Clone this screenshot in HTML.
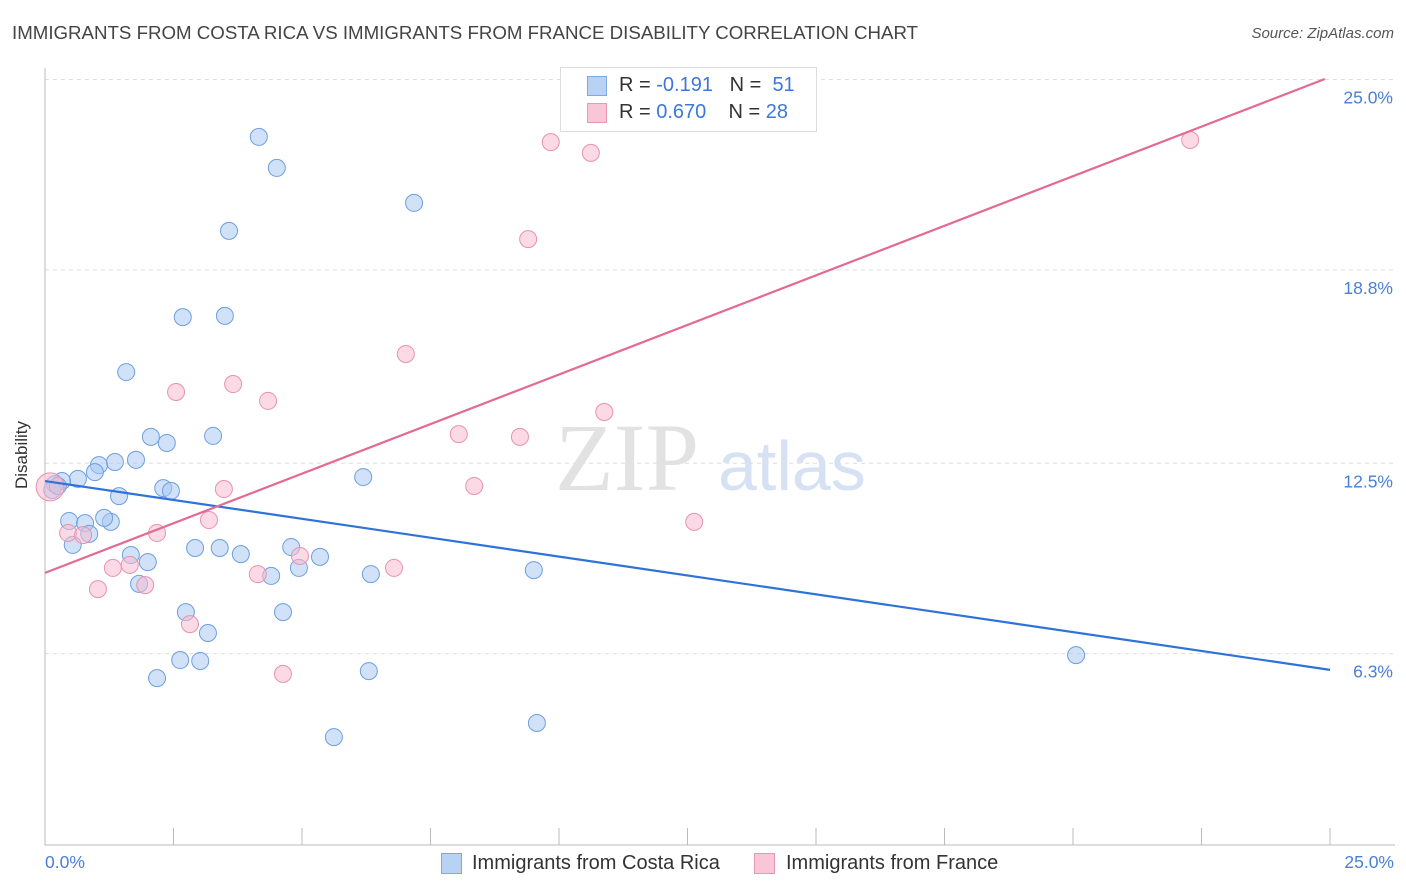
<!DOCTYPE html>
<html><head><meta charset="utf-8">
<style>
body{margin:0;background:#fff;font-family:"Liberation Sans",sans-serif;}
#wrap{position:relative;width:1406px;height:892px;overflow:hidden;}
.t{position:absolute;white-space:nowrap;}
</style></head>
<body>
<div id="wrap">
<div class="t" style="left:12px;top:22px;font-size:18.7px;color:#444;">IMMIGRANTS FROM COSTA RICA VS IMMIGRANTS FROM FRANCE DISABILITY CORRELATION CHART</div>
<div class="t" style="right:12px;top:25px;font-size:15px;color:#555;font-style:italic;">Source: ZipAtlas.com</div>
<svg id="svg" width="1406" height="892" style="position:absolute;left:0;top:0;"></svg>
</div>
<script>
const blueX=[4.16,4.51,7.18,3.58,2.68,3.50,1.58,2.06,2.37,3.27,1.77,1.36,1.05,0.97,0.64,0.33,0.19,0.14,2.30,2.45,1.44,6.19,0.47,0.78,1.28,1.15,0.86,0.54,1.67,2.00,2.92,3.40,3.81,4.79,5.35,4.94,4.40,6.34,9.51,1.83,2.74,4.63,3.17,2.63,3.02,2.18,6.30,20.06,9.57,5.62,0.25];
const blueY=[23.13,22.12,20.98,20.07,17.26,17.30,15.47,13.36,13.16,13.39,12.61,12.54,12.44,12.21,11.99,11.92,11.82,11.63,11.69,11.60,11.43,12.05,10.62,10.55,10.59,10.72,10.20,9.84,9.51,9.28,9.74,9.74,9.54,9.77,9.45,9.09,8.83,8.89,9.02,8.57,7.65,7.65,6.97,6.09,6.06,5.50,5.73,6.25,4.04,3.58,11.76];
const pinkX=[9.84,10.62,22.28,9.40,7.02,3.66,2.55,4.34,10.88,8.05,9.24,8.35,3.48,3.19,12.63,0.45,2.18,0.74,4.96,6.79,1.32,1.65,4.14,1.95,1.03,2.82,4.63,0.10];
const pinkY=[22.96,22.61,23.03,19.80,16.06,15.08,14.82,14.53,14.17,13.45,13.36,11.76,11.66,10.65,10.59,10.23,10.23,10.16,9.48,9.09,9.09,9.19,8.89,8.53,8.40,7.26,5.64,11.73];
const blueTrend=[11.92,-0.246]; // intercept, slope
const pinkTrend=[8.93,0.646];
const yTicks=[25.0,18.8,12.5,6.3];
const yTickLabels=["25.0%","18.8%","12.5%","6.3%"];

const X=v=>45+v*51.4, Y=v=>847-v*30.7;
const svg=document.getElementById('svg');
const NS='http://www.w3.org/2000/svg';
function mk(tag,attrs,parent){const e=document.createElementNS(NS,tag);for(const k in attrs)e.setAttribute(k,attrs[k]);(parent||svg).appendChild(e);return e;}

yTicks.forEach((v,i)=>{
  const g=mk('line',{x1:45,x2:1395,y1:Y(v),y2:Y(v),stroke:'#ddd','stroke-dasharray':'4,4'});
  
  
  const t=mk('text',{x:1393,y:Y(v)+24,'text-anchor':'end','font-size':17.5,fill:'#4a7fd6','font-family':'Liberation Sans'});
  t.textContent=yTickLabels[i];
  
  
});
let a=mk('line',{x1:45,x2:45,y1:68,y2:845,stroke:'#bbb'});

a=mk('line',{x1:45,x2:1395,y1:845,y2:845,stroke:'#bbb'});

for(let i=0;i<=10;i++){
  const tk=mk('line',{x1:X(i*2.5),x2:X(i*2.5),y1:828,y2:845,stroke:'#bbb'});
  
  
}
let w=mk('text',{x:555,y:490,'font-size':96,fill:'#e2e2e2','font-family':'Liberation Serif'});w.textContent='ZIP';

w=mk('text',{x:718,y:490,'font-size':70,fill:'#d6e2f3','font-family':'Liberation Sans'});w.textContent='atlas';


function pts(xs,ys,fill,stroke,name){
  xs.forEach((x,i)=>{
    const big=(name==='pink-point'&&i===xs.length-1);
    const c=mk('circle',{cx:X(x),cy:Y(ys[i]),r:big?14:8.5,fill:fill,'fill-opacity':0.55,stroke:stroke,'stroke-width':1});
    
    
  });
}
pts(blueX,blueY,'#aac8f2','#6d9fe0','blue-point');
pts(pinkX,pinkY,'#f7bcd0','#e892ae','pink-point');
let l=mk('line',{x1:X(0),y1:Y(blueTrend[0]),x2:X(25),y2:Y(blueTrend[0]+25*blueTrend[1]),stroke:'#2f72d8','stroke-width':2.2});

l=mk('line',{x1:X(0),y1:Y(pinkTrend[0]),x2:X(24.9),y2:Y(pinkTrend[0]+24.9*pinkTrend[1]),stroke:'#e36a93','stroke-width':2.2});

</script>
<div class="t" style="left:-12px;top:445px;font-size:17px;color:#333;transform:rotate(-90deg);">Disability</div>
<div class="t" style="left:45px;top:852px;font-size:17.5px;color:#4a7fd6;">0.0%</div>
<div class="t" style="right:12px;top:852px;font-size:17.5px;color:#4a7fd6;">25.0%</div>
<div style="position:absolute;left:560px;top:67px;width:255px;height:63px;border:1px solid #ddd;background:#fff;font-size:20px;color:#333;">
 <div style="position:absolute;left:26px;top:8px;width:18px;height:18px;background:#b8d2f4;border:1px solid #7fa8e2;"></div>
 <div class="t" style="left:58px;top:6px;">R = <span style="color:#3b78d8">-0.191</span>&nbsp;&nbsp;&nbsp;N = &nbsp;<span style="color:#3b78d8">51</span></div>
 <div style="position:absolute;left:26px;top:35px;width:18px;height:18px;background:#f8c6d6;border:1px solid #e899b2;"></div>
 <div class="t" style="left:58px;top:33px;">R = <span style="color:#3b78d8">0.670</span>&nbsp;&nbsp;&nbsp;&nbsp;N = <span style="color:#3b78d8">28</span></div>
</div>
<div>
 <div style="position:absolute;left:441px;top:853px;width:19px;height:19px;background:#b8d2f4;border:1px solid #7fa8e2;"></div>
 <div class="t" style="left:472px;top:852px;font-size:20px;color:#333;">Immigrants from Costa Rica</div>
 <div style="position:absolute;left:754px;top:853px;width:19px;height:19px;background:#f8c6d6;border:1px solid #e899b2;"></div>
 <div class="t" style="left:786px;top:852px;font-size:20px;color:#333;">Immigrants from France</div>
</div>
</body></html>
